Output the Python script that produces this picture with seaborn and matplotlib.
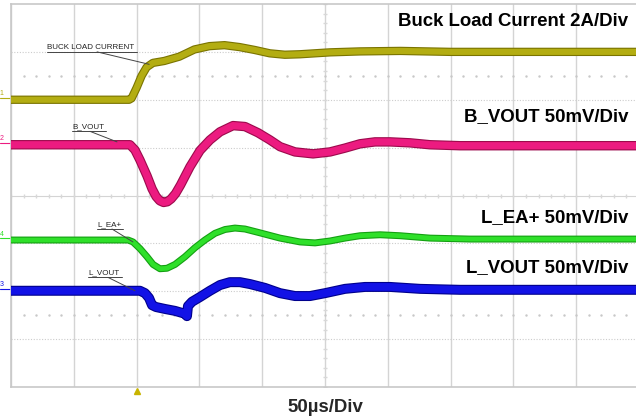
import numpy as np
import pandas as pd
import matplotlib
matplotlib.use('Agg')
import matplotlib.pyplot as plt
import matplotlib.patheffects as pe
import seaborn as sns

# time in us (50us/div, 10 div), level in screen divisions from bottom (8 div)
t_load = [0, 94, 96, 100, 104, 108, 113, 122, 134, 146, 158, 170, 182, 194, 206, 218, 230, 254, 278, 310, 350, 400, 450, 500]
v_load = [6.0, 6.0, 6.03, 6.25, 6.5, 6.68, 6.77, 6.81, 6.9, 7.05, 7.12, 7.14, 7.1, 7.04, 6.97, 6.94, 6.95, 6.99, 7.01, 7.02, 7.0, 7.0, 7.0, 7.0]

t_bvout = [0, 94.7, 98.7, 102.7, 108.3, 112.3, 115.5, 118.5, 121.5, 124.5, 127.5, 131, 135, 142.5, 150.5, 158.4, 166.4, 176.8,
           186.3, 196.7, 206.2, 214.2, 226.1, 240.5, 254, 265.9, 277.9, 289.8, 301.8, 317.7, 333.6, 357.5, 389.3, 500]
v_bvout = [5.06, 5.06, 4.95, 4.74, 4.41, 4.14, 3.98, 3.89, 3.855, 3.87, 3.93, 4.04, 4.22, 4.6, 4.94, 5.16, 5.33, 5.46,
           5.44, 5.31, 5.16, 5.02, 4.91, 4.87, 4.91, 4.99, 5.08, 5.12, 5.12, 5.1, 5.06, 5.04, 5.04, 5.04]

t_lea = [0, 93.2, 97.1, 102.7, 108.3, 113.1, 118.6, 124.2, 130.6, 138.5, 146.5, 154.4, 162.4, 170.4, 178.3, 186.3,
         198.2, 214.2, 230.1, 242.1, 254, 265.9, 277.9, 293.8, 309.7, 333.6, 365.5, 500]
v_lea = [3.07, 3.07, 3.03, 2.89, 2.72, 2.56, 2.47, 2.48, 2.56, 2.72, 2.91, 3.07, 3.21, 3.29, 3.32, 3.30,
         3.22, 3.11, 3.03, 3.01, 3.05, 3.11, 3.16, 3.18, 3.16, 3.11, 3.09, 3.09]

t_lvout = [0, 102.7, 106.7, 109.9, 112.3, 115.5, 122.6, 130.6, 138.5, 140.1, 140.9, 144.1, 150.5, 158.4, 166.4, 174.3,
           182.3, 190.3, 202.2, 214.2, 226.1, 238.1, 250, 265.9, 281.8, 301.8, 325.7, 357.5, 500]
v_lvout = [2.01, 2.01, 1.96, 1.86, 1.71, 1.67, 1.63, 1.59, 1.53, 1.48, 1.69, 1.78, 1.88, 2.01, 2.13, 2.19,
           2.19, 2.15, 2.07, 1.96, 1.90, 1.90, 1.96, 2.05, 2.09, 2.09, 2.05, 2.03, 2.03]

traces = [
    ('1', t_load, v_load, '#b3ad12', '#7a7400', 4.4),
    ('2', t_bvout, v_bvout, '#ec1b80', '#9c0a4c', 5.2),
    ('4', t_lea, v_lea, '#2fe02a', '#14a012', 3.4),
    ('3', t_lvout, v_lvout, '#1212e6', '#00008c', 5.6),
]

sns.set_style('white')
plt.rcParams['font.family'] = ['Liberation Sans', 'DejaVu Sans']

fig = plt.figure(figsize=(6.36, 4.2), dpi=100)
ax = fig.add_axes([11 / 636, 33 / 420, 628 / 636, 383 / 420])
ax.set_xlim(0, 500)
ax.set_ylim(0, 8)

# scope graticule
for xv in np.arange(0, 501, 50):
    ax.axvline(xv, color='#d4d4d4', lw=1.0, zorder=0)
for yv in [1, 2, 3, 5, 6, 7]:
    ax.axhline(yv, color='#cccccc', lw=0.8, ls=(0, (1, 1.5)), zorder=0)
ax.axhline(4, color='#d4d4d4', lw=0.8, zorder=0)
ax.plot(np.arange(0, 501, 10), [4] * 51, '|', color='#d8d8d8', ms=3, zorder=0)
ax.plot([250] * 41, np.arange(0, 8.01, 0.2), '_', color='#d8d8d8', ms=3, zorder=0)
for yv in [1.5, 6.5]:
    ax.plot(np.arange(10, 500, 10), [yv] * 49, '.', color='#c8c8c8', ms=1.5, zorder=0)
for s in ['top', 'left', 'bottom']:
    ax.spines[s].set_color('#c8c8c8')
    ax.spines[s].set_linewidth(1.2)
ax.spines['right'].set_visible(False)
ax.set_xticks([])
ax.set_yticks([])

for ch, t, v, col, dark, lw in traces:
    df = pd.DataFrame({'t': t, 'v': v})
    sns.lineplot(data=df, x='t', y='v', ax=ax, color=col, lw=lw, estimator=None, sort=False, zorder=3,
                 solid_joinstyle='round',
                 path_effects=[pe.Stroke(linewidth=lw + 1.6, foreground=dark, joinstyle='round'), pe.Normal()])
    ax.text(-9, v[0] + 0.05, ch, color=col, fontsize=5, ha='left', va='bottom', clip_on=False)
    ax.plot([-9, -1], [v[0] + 0.04, v[0] + 0.04], color=col, lw=0.8, clip_on=False)
ax.set_xlabel('')
ax.set_ylabel('')

# trigger marker
ax.plot([100], [-0.08], marker='^', color='#c8b400', ms=4, clip_on=False)

# probe labels with leader lines
labels = [
    ('BUCK LOAD CURRENT', 28.7, 7.09, 100.3, 68.5, 110, 6.74),
    ('B_VOUT', 48.6, 5.43, 75.6, 62.9, 84.4, 5.12),
    ('L_EA+', 68.5, 3.39, 89.2, 80.4, 97.1, 3.03),
    ('L_VOUT', 61.3, 2.38, 88.4, 77.2, 98.7, 2.01),
]
for txt, x0, y0, x1, xl, xt, yt in labels:
    ax.text(x0, y0, txt, fontsize=5.8, color='#222222', ha='left', va='center', zorder=5)
    ax.plot([x0, x1], [y0 - 0.09, y0 - 0.09], color='#444444', lw=0.7, zorder=5)
    ax.plot([xl, xt], [y0 - 0.09, yt], color='#444444', lw=0.7, zorder=5)

# channel scale texts
scale = [
    ('Buck Load Current 2A/Div', 7.63),
    ('B_VOUT 50mV/Div', 5.64),
    ('L_EA+ 50mV/Div', 3.53),
    ('L_VOUT 50mV/Div', 2.49),
]
for txt, yv in scale:
    ax.text(491.5, yv, txt, fontsize=13.4, fontweight='bold', ha='right', va='center', color='black', zorder=6)
ax.text(250, -0.42, '50\u00b5s/Div', fontsize=13.4, fontweight='bold', ha='center', va='center', clip_on=False)

fig.savefig('out.png', dpi=100)
